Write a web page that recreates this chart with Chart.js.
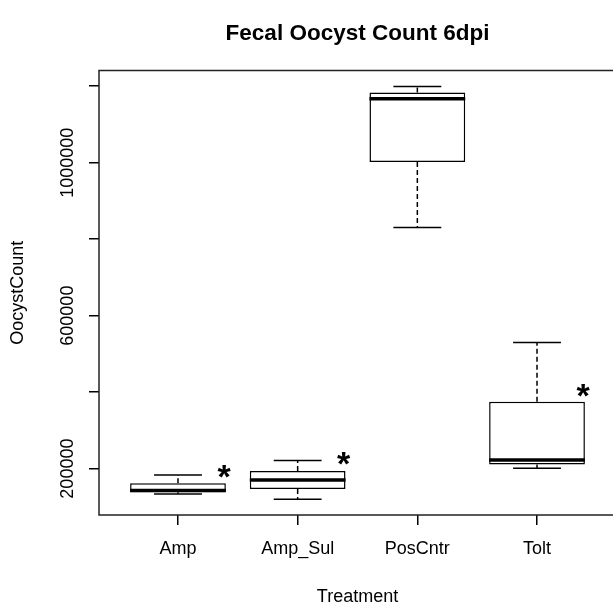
<!DOCTYPE html>
<html>
<head>
<meta charset="utf-8">
<title>Fecal Oocyst Count 6dpi</title>
<script src="https://cdn.jsdelivr.net/npm/chart.js@4.4.1/dist/chart.umd.min.js"></script>
<style>
  html, body { margin: 0; padding: 0; background: #fff; overflow: hidden; }
  #wrap { width: 620px; height: 604px; }
</style>
</head>
<body>
<div id="wrap"><canvas id="chart" width="620" height="604"></canvas></div>
<script>
// five-number summaries
const categories = ['Amp', 'Amp_Sul', 'PosCntr', 'Tolt'];
const minVals    = [133500, 120000,  830500, 201000];
const q1Vals     = [138500, 147000, 1001500, 210500];
const medianVals = [142500, 170500, 1167000, 222500];
const q3Vals     = [161500, 194000, 1183500, 375000];
const maxVals    = [183500, 221500, 1199000, 529500];

// significance stars
const starCats   = ['Amp', 'Amp_Sul', 'Tolt'];
const starVals   = [189600, 223500, 399600];

const yTicks      = [200000, 400000, 600000, 800000, 1000000, 1200000];
const yTickLabels = [200000, 600000, 1000000];

const BOX_HALF = 0.4;   // half box width in x units
const FONT = "'Liberation Sans', Arial, sans-serif";

Chart.defaults.font.family = FONT;
Chart.defaults.color = '#000';

function seg(ctx, x1, y1, x2, y2) {
  ctx.beginPath();
  ctx.moveTo(x1, y1);
  ctx.lineTo(x2, y2);
  ctx.stroke();
}

const boxPlot = {
  id: 'boxPlot',
  afterDatasetsDraw(chart) {
    const { ctx, scales: { x, y } } = chart;
    ctx.save();
    ctx.strokeStyle = '#000';
    ctx.lineCap = 'butt';
    categories.forEach((c, i) => {
      const cx = x.getPixelForValue(i + 1);
      const half = x.getPixelForValue(i + 1 + BOX_HALF) - cx;
      const cap = half / 2;
      const yMin = y.getPixelForValue(minVals[i]);
      const yQ1 = y.getPixelForValue(q1Vals[i]);
      const yMed = y.getPixelForValue(medianVals[i]);
      const yQ3 = y.getPixelForValue(q3Vals[i]);
      const yMax = y.getPixelForValue(maxVals[i]);

      // whiskers
      ctx.lineWidth = 1.5;
      ctx.setLineDash([5, 3]);
      seg(ctx, cx, yQ3, cx, yMax);
      seg(ctx, cx, yQ1, cx, yMin);
      ctx.setLineDash([]);
      seg(ctx, cx - cap, yMax, cx + cap, yMax);
      seg(ctx, cx - cap, yMin, cx + cap, yMin);

      // median
      ctx.lineWidth = 3.5;
      seg(ctx, cx - half, yMed, cx + half, yMed);
    });

    // stars
    const fs = 34;
    ctx.fillStyle = '#000';
    ctx.font = 'bold ' + fs + 'px ' + FONT;
    ctx.textAlign = 'center';
    ctx.textBaseline = 'alphabetic';
    starCats.forEach((c, k) => {
      const i = categories.indexOf(c);
      const px = x.getPixelForValue(i + 1 + 0.385);
      const py = y.getPixelForValue(starVals[k]);
      ctx.fillText('*', px, py + fs * 0.44);
    });

    // rotated y tick labels
    ctx.font = '18px ' + FONT;
    yTickLabels.forEach(v => {
      ctx.save();
      ctx.translate(72.5, y.getPixelForValue(v));
      ctx.rotate(-Math.PI / 2);
      ctx.textAlign = 'center';
      ctx.fillText(String(v), 0, 0);
      ctx.restore();
    });
    ctx.restore();
  },
  afterDraw(chart) {
    const { ctx, chartArea: a } = chart;
    ctx.save();
    ctx.strokeStyle = '#222';
    ctx.lineWidth = 1.5;
    ctx.strokeRect(a.left, a.top, a.right - a.left, a.bottom - a.top);
    ctx.restore();
  }
};

new Chart(document.getElementById('chart'), {
  type: 'bar',
  data: {
    datasets: [{
      data: categories.map((c, i) => ({ x: i + 1, y: [q1Vals[i], q3Vals[i]] })),
      backgroundColor: '#fff',
      borderColor: '#000',
      borderWidth: 1.5,
      borderSkipped: false,
      categoryPercentage: 1,
      barPercentage: 0.8
    }]
  },
  options: {
    responsive: false,
    animation: false,
    layout: { padding: { left: 0, right: 4, top: 0, bottom: 0 } },
    plugins: {
      legend: { display: false },
      tooltip: { enabled: false },
      title: {
        display: true,
        fullSize: false,
        text: 'Fecal Oocyst Count 6dpi',
        font: { size: 22.5, weight: 'bold' },
        padding: { top: 20, bottom: 23.5 }
      }
    },
    scales: {
      x: {
        type: 'linear',
        min: 0.34,
        max: 4.66,
        offset: false,
        afterBuildTicks: s => { s.ticks = categories.map((c, i) => ({ value: i + 1 })); },
        afterFit: s => { s.height = 89; },
        ticks: {
          font: { size: 18 },
          padding: 13,
          maxRotation: 0,
          callback: v => categories[v - 1]
        },
        grid: { offset: false, drawOnChartArea: false, tickLength: 10, color: '#000', lineWidth: 1.5 },
        border: { display: false },
        title: {
          display: true,
          text: 'Treatment',
          font: { size: 18, lineHeight: 0.8 },
          padding: 0
        }
      },
      y: {
        min: 78700,
        max: 1241000,
        beginAtZero: false,
        afterBuildTicks: s => { s.ticks = yTicks.map(v => ({ value: v })); },
        afterFit: s => { s.width = 99; },
        ticks: { callback: () => '' },
        grid: { drawOnChartArea: false, tickLength: 10, color: '#000', lineWidth: 1.5 },
        border: { display: false },
        title: {
          display: true,
          text: 'OocystCount',
          font: { size: 18, lineHeight: 1.2 },
          padding: { top: 7.5, bottom: 0 }
        }
      }
    }
  },
  plugins: [boxPlot]
});
</script>
</body>
</html>
